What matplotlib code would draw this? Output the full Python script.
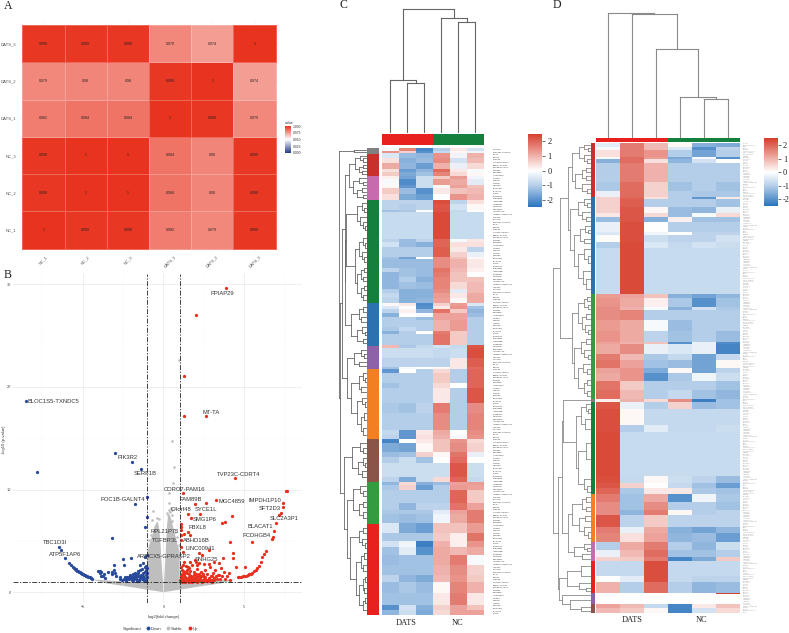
#!/usr/bin/python3
# -*- coding: utf-8 -*-
import numpy as np
import matplotlib
matplotlib.use('Agg')
import matplotlib.pyplot as plt
from matplotlib.colors import LinearSegmentedColormap
from matplotlib.lines import Line2D

plt.rcParams['font.family'] = ['Liberation Sans', 'DejaVu Sans']

W, H = 789, 633

# ---------- panel A ----------
sample_names = ['NC_1', 'NC_2', 'NC_3', 'DATS_1', 'DATS_2', 'DATS_3']
corr_values = [
    [1, 0.999, 0.999, 0.982, 0.979, 0.999],
    [0.999, 1, 1, 0.984, 0.98, 0.999],
    [0.999, 1, 1, 0.984, 0.98, 0.999],
    [0.982, 0.984, 0.984, 1, 0.999, 0.979],
    [0.979, 0.98, 0.98, 0.999, 1, 0.974],
    [0.999, 0.999, 0.999, 0.979, 0.974, 1],
]
corr_legend_ticks = [0.9, 0.925, 0.95, 0.975, 1.0]

# ---------- panel B ----------
down_x = [-8.52, -7.86, -3.02, -1.95, -1.38, -1.75, -1.01, -1.05, -1.15, -3.19, -2.51, -2.02, -1.17, -1.02,
          -6.46, -6.36, -6.11, -5.86, -5.6, -5.49, -5.39, -5.29, -5.19, -5.08, -4.98, -4.88, -4.77, -4.67, -4.57,
          -4.46, -4.4, -4.05, -3.95, -3.95, -3.74, -3.62, -3.44, -3.09, -3.17, -2.98, -2.92, -2.72, -2.67, -2.45,
          -2.41, -2.26, -2.14, -2.0, -1.89, -1.79, -1.69, -1.58, -1.48, -1.44, -1.28, -1.17, -1.07, -1.03, -1.28,
          -1.11, -1.03, -1.48, -1.69, -2.0, -2.26, -2.47, -1.38, -1.23, -1.03, -1.58, -1.79, -1.15, -1.32, -2.6,
          -2.35, -2.15, -1.95, -1.8, -1.65, -1.5, -1.35, -1.2, -1.1, -1.4, -1.9, -2.1, -1.25, -3.9, -3.07,
          -5.75, -5.55, -5.44, -5.34, -5.24, -5.13, -5.03, -4.93, -4.82, -4.72, -4.62, -4.51, -2.2, -2.05, -1.92,
          -1.72, -1.6, -1.45, -1.3, -1.12, -1.06, -1.52, -1.62, -1.86, -2.32, -1.22, -1.08, -3.85, -3.68, -3.22]
down_y = [18.63, 11.75, 13.53, 12.69, 11.97, 8.6, 9.25, 7.3, 6.39, 5.32, 3.28, 3.37, 3.41, 3.6,
          4.41, 4.12, 3.31, 2.85, 2.43, 2.27, 2.17, 2.04, 1.94, 1.85, 1.75, 1.65, 1.59, 1.52, 1.46,
          1.39, 1.33, 2.11, 2.11, 1.85, 1.59, 1.39, 2.01, 2.17, 1.78, 1.85, 1.62, 1.46, 1.33, 2.63,
          1.52, 1.52, 1.46, 1.52, 1.59, 1.46, 1.69, 1.85, 2.17, 2.66, 2.82, 2.43, 2.17, 2.33, 1.85,
          1.69, 1.46, 1.36, 1.36, 1.36, 1.33, 1.33, 1.52, 1.43, 1.85, 2.11, 1.91, 2.01, 2.24, 1.2,
          1.25, 1.25, 1.2, 1.25, 1.2, 1.18, 1.25, 1.2, 1.3, 1.7, 1.75, 1.7, 1.6, 1.6, 2.66,
          2.65, 2.35, 2.22, 2.1, 1.99, 1.9, 1.8, 1.7, 1.62, 1.55, 1.49, 1.42, 1.4, 1.55, 1.35,
          1.35, 1.55, 1.6, 1.5, 1.95, 2.6, 1.05, 1.1, 1.08, 1.1, 1.1, 1.08, 2.0, 1.75, 1.95]

up_x = [3.89, 2.02, 1.3, 1.28, 2.65, 4.4, 1.23, 1.93, 2.65, 3.27, 7.57, 7.67, 7.41, 7.41, 7.26, 7.18, 6.99, 6.85,
        6.75, 6.81, 5.47, 1.54, 1.71, 2.26, 1.11, 1.11, 1.11, 1.3, 1.52, 1.65, 3.81, 4.22, 3.6, 4.09, 4.28, 2.84,
        2.22, 2.39, 1.09, 1.11, 1.09, 1.19, 2.02, 2.53, 2.22, 2.8, 3.15, 3.46, 3.56, 3.66, 4.32, 4.49, 5.06,
        4.59, 4.69, 4.79, 4.9, 5.0, 5.1, 5.21, 5.31, 5.41, 5.51, 5.62, 5.72, 5.82, 5.93, 6.03, 6.13, 6.23, 6.34,
        1.05, 1.1, 1.12, 1.15, 1.2, 1.25, 1.3, 1.32, 1.38, 1.42, 1.45, 1.5, 1.52, 1.58, 1.6, 1.65, 1.7, 1.75, 1.78,
        1.85, 1.88, 1.92, 1.98, 2.02, 2.08, 2.12, 2.18, 2.25, 2.3, 2.35, 2.42, 2.48, 2.55, 2.6, 2.66, 2.72, 2.8,
        2.85, 2.92, 3.0, 3.05, 3.12, 3.2, 3.3, 3.38, 3.5, 3.6, 3.72, 3.82, 3.95, 4.05, 4.15, 1.1, 1.22, 1.35, 1.48,
        1.62, 1.8, 1.95, 2.15, 2.4, 2.7, 1.08, 1.28, 1.42, 1.62, 1.95, 2.1,
        1.06, 1.14, 1.18, 1.24, 1.28, 1.34, 1.4, 1.46, 1.55, 1.6, 1.68, 1.72, 1.82, 1.9, 2.0, 2.05, 2.14, 2.22,
        2.32, 2.45, 2.52, 2.62, 2.75, 2.88, 2.98, 3.1, 3.25, 3.45, 1.16, 1.36, 1.56, 1.76, 2.06, 2.38, 2.68, 3.02]
up_y = [29.6, 27.03, 21.03, 17.2, 17.14, 11.1, 9.64, 8.63, 8.66, 8.99, 9.86, 9.86, 8.73, 8.27, 7.69, 7.53, 6.72, 6.0,
        5.16, 5.35, 4.87, 7.59, 7.2, 7.62, 6.68, 6.33, 6.07, 5.64, 5.9, 5.58, 6.81, 7.43, 6.7, 4.87, 3.8, 4.12,
        3.8, 3.63, 5.09, 5.58, 4.44, 3.96, 2.98, 2.76, 2.82, 2.76, 2.9, 2.82, 2.33, 3.31, 3.31, 2.43, 2.43,
        1.46, 1.49, 1.52, 1.55, 1.59, 1.62, 1.69, 1.75, 1.81, 1.91, 2.04, 2.17, 2.33, 2.56, 2.98, 3.41, 3.73, 4.02,
        1.2, 1.45, 1.8, 2.2, 2.7, 1.3, 1.6, 2.0, 1.15, 1.35, 1.9, 2.45, 1.2, 1.5, 1.75, 2.1, 1.25, 1.45, 2.65,
        1.15, 1.65, 1.95, 1.3, 1.5, 2.3, 1.2, 1.75, 1.4, 1.15, 1.95, 1.55, 1.25, 2.2, 1.45, 1.2, 1.75, 1.35,
        2.45, 1.55, 1.2, 1.85, 1.4, 2.15, 1.3, 1.65, 1.25, 1.55, 1.95, 1.3, 1.6, 1.85, 1.2, 1.1, 1.05, 1.05, 1.08,
        1.05, 1.05, 1.08, 1.05, 1.05, 1.08, 2.5, 2.95, 2.6, 2.9, 3.1, 2.7,
        1.55, 1.35, 2.05, 1.15, 1.75, 1.5, 1.25, 2.15, 1.35, 2.35, 1.6, 1.15, 1.4, 1.25, 1.75, 1.25, 1.55, 1.15,
        1.55, 1.8, 1.1, 1.2, 1.2, 1.15, 1.6, 1.15, 1.6, 1.7, 1.0, 1.0, 1.0, 1.0, 1.0, 1.0, 1.05, 1.0]

stable_x = [0.93, 0.54, 0.68, 0.6, 0.32, 0.36, 0.46, 0.52, 0.24, -0.66, -0.9, -0.75, -0.55, 0.95, 0.85, 0.7, 0.5,
            0.4, 0.33, -0.4, -0.3, 0.55, 0.28, -0.72]
stable_y = [22.6, 14.73, 12.23, 10.6, 9.66, 8.7, 8.2, 8.0, 7.7, 7.9, 5.1, 5.6, 6.4, 4.6, 5.4, 5.9, 7.5,
            7.8, 8.0, 7.2, 7.1, 6.9, 7.5, 7.0]
# outline of the dense grey cloud
cloud_x = [-4.5, -3.5, -2.5, -1.8, -1.0, -1.0, -0.92, -0.8, -0.65, -0.5, -0.35, -0.25, -0.18, -0.12, -0.07, -0.03, 0,
           0.03, 0.07, 0.12, 0.17, 0.22, 0.28, 0.38, 0.5, 0.62, 0.75, 0.88, 1.0, 1.0, 1.8, 2.5, 3.5, 4.5,
           3.5, 2.0, 1.0, 0, -1.0, -2.0, -3.5]
cloud_y = [1.25, 1.15, 1.05, 1.0, 1.0, 3.8, 4.4, 5.0, 5.8, 6.6, 6.9, 6.0, 4.6, 3.0, 1.8, 1.0, 0.6,
           1.0, 2.0, 3.5, 5.0, 6.5, 7.4, 7.6, 7.0, 6.2, 5.4, 4.6, 4.0, 1.0, 1.0, 1.05, 1.15, 1.25,
           0.85, 0.5, 0.25, 0, 0.25, 0.5, 0.85]

gene_names = ['PPIAP29', 'BLOC1S5-TXNDC5', 'MT-TA', 'PIK3R2', 'SERF1B', 'TVP23C-CDRT4', 'CORO7-PAM16',
              'POC1B-GALNT4', 'FAM89B', 'MGC4859', 'IMPDH1P10', 'SFT2D3', 'C4orf48', 'SYCE1L', 'SMG1P6',
              'SLC2A3P1', 'BLACAT1', 'FBXL8', 'RPL21P75', 'PCDHGB4', 'ABHD16B', 'TGFBR3L', 'TBC1D3I',
              'LINC00941', 'ATP5F1AP6', 'ARMCX5-GPRASP2', 'SNHG25']
gene_x = [3.66, -6.79, 2.92, -2.22, -1.13, 4.65, 1.3, -2.53, 1.67, 4.22, 6.3, 6.56, 1.07, 2.64, 2.57,
          7.47, 5.99, 2.12, 0.08, 5.78, 2.02, 0.12, -6.73, 2.27, -6.11, 0.04, 2.67]
gene_y = [29.1, 18.6, 17.5, 13.15, 11.52, 11.49, 10.03, 8.99, 9.05, 8.82, 8.92, 8.14, 8.01, 8.01, 7.1,
          7.14, 6.36, 6.26, 5.87, 5.55, 5.06, 5.06, 4.8, 4.25, 3.63, 3.44, 3.15]

# ---------- panel C ----------
c_band_span = [7, 8, 14, 16, 16, 10, 11, 10, 18, 10, 17, 18, 12, 18, 7, 81, 8, 15, 16, 13, 8, 27, 12, 13, 15, 22, 13,
               15, 15, 8, 10, 12, 10, 10, 20, 12, 10, 34, 9, 30, 25, 8, 12, 28, 17, 45, 30, 50, 15, 13, 10, 27, 15,
               18, 44, 13, 10, 15, 40, 20, 12, 28, 28, 24, 18, 25, 30, 30, 20, 35, 35, 15, 15]
c_band_values = [
    [-0.1, 1.6, -2.2, -1.0, 0.3, -0.6], [1.4, 0.6, -2.0, -0.8, 0.1, -0.2], [-0.5, -1.3, -1.4, 1.4, -0.2, 1.0],
    [0.4, -1.5, -1.3, 1.5, -0.6, 0.9], [1.1, -1.4, -1.8, 1.0, -0.3, 0.5], [0.4, -1.8, -1.4, 1.9, 0.3, -0.1],
    [0.7, -1.6, -1.2, 1.6, 0.5, 0.1], [0.2, -1.7, -0.7, 0.7, 1.3, -0.2], [-0.1, -2.1, -0.7, 1.3, 1.1, -0.4],
    [0.1, -1.9, -0.7, 0.1, 1.2, 0.8], [0.7, -1.3, -2.0, 0.3, 0.8, 0.9], [0.4, -1.6, -1.8, 0.0, 1.4, 1.0],
    [-0.9, -0.9, -0.9, 2.3, -0.9, 0.4], [-0.9, -1.0, -0.9, 2.2, -0.6, 0.1], [-1.2, -1.1, 0.0, 2.2, -0.8, 0.0],
    [-0.75, -0.75, -0.75, 2.35, -0.75, -0.75], [-0.9, -1.3, -0.9, 2.0, -0.1, 0.3], [-0.6, -1.3, -1.5, 2.0, 0.4, 0.4],
    [-1.0, -1.0, -1.0, 2.1, 0.3, -0.9], [-1.0, -1.0, -1.0, 2.1, 0.6, -0.3], [-1.2, -1.7, 0.0, 1.5, 0.8, 0.1],
    [-1.3, -1.3, -1.3, 1.5, 1.0, 0.3], [-0.9, -1.2, -1.3, 1.8, 0.9, 0.2], [-1.4, -1.2, -1.3, 1.7, 0.8, 0.0],
    [-1.4, -1.0, -1.5, 1.6, 0.8, 0.8], [-1.4, -1.2, -1.3, 1.6, 0.5, 0.9], [-1.0, -1.5, -1.5, 1.5, -0.4, 0.9],
    [-0.8, -1.5, -1.5, 1.3, 0.3, 1.1], [-0.9, -1.5, -1.4, 1.2, 0.1, 1.1], [0.1, 0.3, -2.1, 0.6, 1.3, -0.5],
    [-0.5, 0.0, -2.0, 0.3, 1.4, -1.2], [-0.9, 0.2, -1.4, 1.8, 0.7, -1.4], [-1.5, 0.0, -0.1, 1.2, 1.2, -1.3],
    [-1.0, -1.0, -1.3, 1.2, 1.2, -1.0], [-1.0, -1.0, -1.0, 1.0, 1.3, -1.0], [-1.1, -0.8, -1.0, 1.0, 1.3, -1.0],
    [-1.5, -1.0, 0.0, 1.7, 0.7, -1.0], [-1.0, -1.0, -1.0, 1.8, 0.7, -1.0], [0.9, -1.1, -0.8, -0.6, -0.8, 2.2],
    [-0.7, -0.7, -0.7, -0.8, -0.7, 2.3], [-0.9, -0.9, -0.9, -0.9, 0.3, 2.1], [-1.2, -0.1, 0.0, 0.1, 0.3, 1.9],
    [-1.9, 0.0, -1.0, 0.5, -1.0, 2.0], [-1.0, -1.0, -1.0, 0.7, -1.0, 2.0], [-1.2, -1.0, -1.0, 0.5, 0.0, 2.0],
    [-1.0, -1.0, -1.0, 0.3, -1.0, 2.2], [-1.1, -1.2, -0.9, 1.7, -1.0, 1.5], [-1.0, -1.0, -1.0, 1.5, -1.0, 1.6],
    [-0.8, -1.9, 0.3, 1.1, 0.0, 1.5], [-0.9, -1.9, 0.4, 1.0, -0.1, 1.4], [-2.2, 0.0, 0.3, 0.8, 1.4, 0.5],
    [-1.6, -1.7, 0.1, 0.8, 1.5, 0.6], [-1.3, -1.2, 0.6, 0.1, 1.8, -0.3], [-1.0, -0.7, -1.2, 0.0, 1.9, 0.0],
    [-0.7, -0.7, -0.7, -0.7, 2.2, -0.7], [-0.9, -1.6, -0.7, 0.5, 2.0, -0.8], [-1.4, 0.5, -1.5, -1.3, 1.2, 1.3],
    [-1.1, 0.6, -1.8, -1.0, 1.3, 1.2], [-1.0, -1.0, -1.0, -1.0, 2.0, 0.7], [-1.0, -1.4, -0.9, -0.9, 1.8, 1.2],
    [-1.1, -1.1, -1.1, -0.4, 1.2, 1.7], [-1.2, -1.3, -1.2, -0.2, 1.1, 1.7], [-0.5, -1.6, -1.8, 0.8, 0.8, 1.3],
    [-1.1, -1.1, -1.1, 0.7, 0.2, 1.8], [-0.6, -0.2, -2.3, 1.0, 0.2, 1.4], [-1.2, -0.4, -2.0, 1.1, 0.9, 1.1],
    [-1.3, -1.2, -1.2, 1.1, 1.7, -0.1], [-1.2, -1.2, -1.2, 1.0, 1.5, 0.6], [-0.9, -1.4, -1.6, 0.9, 1.4, 0.7],
    [-1.3, -1.1, -1.3, 0.1, 1.6, 1.0], [-1.2, -1.2, -1.2, 0.3, 1.7, 0.3], [-2.0, -0.6, -1.5, 0.6, 1.2, 0.8],
    [-1.4, -0.7, -1.6, 0.5, 1.2, 1.2],
]
c_cluster_span = [16, 66, 73, 310, 128, 69, 211, 127, 126, 274]
c_cluster_color = ['#808080', '#C9302C', '#C76BAE', '#15803D', '#2B73B0', '#8E62A8', '#F28023', '#8A5548', '#339C40',
                   '#E9211E']

# dendrograms are nested (merge height, child, child), a bare number is a leaf position
c_col_tree = (373, (161, 0.5, (151, 1.5, 2.5)), (345, 3.5, (333, 4.5, 5.5)))
c_grey = (40, 4, 12)
c_dkred = (36, (22, 22, (12, 30, 40)), (26, (14, 50, 60), (16, 68, 76)))
c_pink = (42, (24, 90, (14, 100, 110)), (30, (16, 120, 130), (12, 140, 150)))
c_dkgreen = (64, (32, (16, 165, (10, 178, 190)), (22, 205, (14, 220, (8, 232, 245)))),
             (38, (24, (14, 270, (8, 285, 298)), (16, 312, (10, 326, 340))),
              (30, (18, (10, 358, 370), (12, 385, 398)), (20, (10, 412, 425), (12, 440, 455)))))
c_blue = (50, (26, (14, 475, 490), (18, 505, 520)), (30, (16, 535, (8, 550, 560)), (14, 572, 585)))
c_purple = (40, (18, 605, (10, 618, 628)), (24, 640, 652))
c_orange = (48, (24, (14, 675, (8, 688, 700)), (18, 715, 730)),
            (30, (16, 748, (8, 762, 775)), (20, (10, 795, 815), (12, 838, 860))))
c_brown = (46, (22, 885, (12, 900, 915)), (28, (14, 930, (8, 945, 955)), (16, 968, 985)))
c_green = (42, (22, 1012, (12, 1028, 1042)), (24, (12, 1060, 1075), (14, 1092, 1110)))
c_red = (52, (26, (14, 1140, 1155), (16, 1172, (8, 1185, 1198))),
         (34, (20, (10, 1215, 1232), (12, 1250, 1268)),
          (24, (14, (8, 1285, 1300), (10, 1318, 1335)), (14, (8, 1350, 1365), 1385))))
c_row_tree = (84, c_grey, (82, (76, (68, (56, c_dkred, c_pink), (66, c_dkgreen, c_blue)), (62, c_purple, c_orange)),
                           (70, c_brown, (60, c_green, c_red))))

# ---------- panel D ----------
d_band_span = [12, 10, 20, 6, 14, 55, 27, 18, 7, 23, 20, 12, 13, 30, 10, 20, 20, 137, 13, 25, 10, 30, 32, 33, 7, 30,
               18, 25, 15, 22, 28, 28, 7, 21, 49, 20, 133, 22, 15, 18, 22, 25, 15, 37, 18, 27, 23, 20, 12, 46, 17, 35,
               3, 29, 13, 15]
d_band_values = [
    [-0.4, 1.7, 0.9, 0.1, -1.5, -1.6], [-0.1, 1.7, 0.9, -0.5, -2.0, -0.9], [0.4, 1.7, 1.4, -1.0, -1.7, -1.0],
    [-0.1, 1.9, 1.3, -1.6, -0.1, -2.0], [-1.5, 1.9, 0.4, -1.4, -0.6, 0.0], [-1.0, 1.7, 1.0, -1.0, -1.0, -1.0],
    [-1.1, 1.9, 0.6, -1.2, -1.0, -1.2], [-0.3, 1.9, 0.6, -1.0, -1.1, -1.1], [0.6, 2.0, 0.4, -1.0, -1.9, 0.3],
    [0.6, 2.1, -1.0, -1.0, -1.0, -1.2], [0.6, 2.2, 0.1, -1.3, -1.4, -0.3], [0.3, 2.2, 0.5, -1.3, -0.1, 0.5],
    [-1.3, 2.2, -1.5, 0.2, -1.2, -1.2], [-0.3, 2.3, 0.0, -1.0, -1.0, -1.0], [-0.5, 2.3, -0.2, 0.0, -0.9, -0.9],
    [0.05, 2.3, -0.7, -0.9, -0.9, -0.6], [-1.0, 2.35, -0.5, -0.8, -0.6, -0.7],
    [-0.75, 2.35, -0.75, -0.75, -0.75, -0.75], [1.3, 1.2, 0.8, -1.5, -1.7, -1.4], [1.4, 1.1, 0.2, -1.1, -2.0, -1.2],
    [1.5, 1.0, -0.1, -1.5, -0.6, -1.1], [1.5, 1.6, -1.0, -1.0, -1.0, -1.0], [1.3, 1.1, -0.1, -1.3, -1.0, -1.0],
    [1.4, 1.1, -0.9, -1.2, -1.0, -1.3], [1.2, 1.0, 0.8, -2.0, -0.3, -2.1], [1.1, 1.5, -0.3, -0.5, -0.3, -2.2],
    [1.7, 0.9, -1.1, -0.8, -1.7, -0.8], [1.8, 1.2, -1.2, -1.3, -1.7, 0.1], [1.2, 1.4, -1.6, 0.1, -1.7, -0.9],
    [1.1, 1.4, -2.0, -1.1, -0.2, -0.7], [1.8, 0.7, -1.0, -1.0, -1.0, -1.2], [1.9, 0.9, -1.0, -0.8, -1.2, -1.4],
    [0.2, 1.0, 0.5, 1.5, -2.3, -1.2], [2.2, -0.3, -1.0, 0.6, -1.3, -1.2], [2.3, 0.1, -0.8, -0.8, -0.8, -0.8],
    [2.3, -1.0, -0.4, -0.8, -0.8, -0.7], [2.35, -0.75, -0.75, -0.75, -0.75, -0.75], [2.3, -0.8, 0.1, -0.7, -0.9, -1.3],
    [2.2, 0.6, 0.0, -0.8, -1.2, -1.8], [2.0, -1.1, 0.3, 0.3, -1.1, -1.2], [1.7, -1.2, 1.1, -2.0, -0.2, -1.1],
    [1.5, -1.2, 1.5, -1.0, -1.0, -1.2], [1.5, -1.4, 1.7, 0.1, -1.0, -0.9], [2.2, -0.9, 0.7, -0.9, -0.9, -0.9],
    [1.7, -0.3, 1.1, -1.5, -1.7, -1.4], [1.6, 0.4, 1.2, -1.4, -1.3, -1.8], [-1.0, 1.1, 1.7, -1.0, -1.4, -0.7],
    [-0.3, 0.9, 1.9, -1.2, -1.2, -1.0], [0.6, 0.7, 1.7, -2.2, -1.6, 0.7], [-0.8, -0.8, 2.3, -0.8, -0.8, -0.8],
    [0.0, -0.4, 2.3, -0.8, -0.9, -0.9], [1.0, -1.0, 1.9, -1.0, -1.4, -1.3], [0, 0, 0, 0, 0, 2.5], [0, 0, 0, 0, 0, 0],
    [1.2, 0.9, -0.8, -2.2, 0.3, 0.8], [0.9, 0.7, 0.1, -2.2, -0.6, 0.5],
]
d_cluster_span = [162, 292, 316, 7, 278, 144, 55, 98, 32, 28]
d_cluster_color = ['#C9302C', '#2B73B0', '#339C40', '#808080', '#15803D', '#F28023', '#C76BAE', '#E9211E', '#8E62A8',
                   '#8A5548']

d_col_tree = (376, 0.5, (371, 1.5, (266, 2.5, (124, 3.5, (116, 4.5, 5.5)))))
d_dkred = (58, (36, (22, 6, (10, 16, 24)), (20, 38, (12, 50, 60))),
           (48, (28, (14, 75, 88), (16, 100, 112)), (26, 125, (12, 140, 152))))
d_blue = (64, (38, (22, 170, (12, 182, 192)), (26, 208, (14, 222, 235))),
          (52, (32, (18, 250, (10, 262, 272)), (22, 288, 300)), (38, (20, 320, (10, 340, 360)), (24, 385, (14, 410, 440)))))
d_green = (58, (38, (20, (12, 462, 474), (10, 488, 500)), (28, (14, 515, 530), (18, 548, (10, 562, 574)))),
           (50, (30, (14, 590, 605), (20, 622, (10, 636, 648))), (40, (24, 665, (12, 680, 695)), (22, (12, 712, 728), (12, 744, 760)))))
d_dkgreen = (46, (30, (14, 785, (8, 798, 810)), (18, 830, 860)), (40, (16, 900, 950), (22, 1010, (12, 1030, 1048))))
d_orange = (56, (28, (14, 1062, 1078), (16, 1092, 1106)), (36, (18, 1120, 1135), (22, 1152, (10, 1168, 1185))))
d_pink = (50, (22, 1205, (12, 1215, 1225)), (26, 1235, 1248))
d_red = (72, (30, 1270, 1300), (36, 1320, (14, 1335, 1345)))
d_tail = (86, 1358, (62, 1372, (30, 1392, 1405)))
d_row_tree = (113, (92, (70, d_dkred, d_blue), d_green),
              (100, (88, (84, 773, d_dkgreen), (70, d_orange, d_pink)), (96, d_red, d_tail)))

group_names = ['DATS', 'NC']

fig = plt.figure(figsize=(W / 100, H / 100), dpi=100)


# 像素坐标转成 axes
def px_axes(x0, y0, x1, y1):
    return fig.add_axes([x0 / W, 1 - y1 / H, (x1 - x0) / W, (y1 - y0) / H])


def px_text(x, y, s, **kw):
    return fig.text(x / W, 1 - y / H, s, ha='center', va='center', **kw)


def draw_tree(ax, node, color, lw, on_top):
    if not isinstance(node, tuple):
        return node, 0
    h, a, b = node
    pa, ha = draw_tree(ax, a, color, lw, on_top)
    pb, hb = draw_tree(ax, b, color, lw, on_top)
    for xs, ys in (([pa, pa], [ha, h]), ([pb, pb], [hb, h]), ([pa, pb], [h, h])):
        if on_top:
            ax.plot(xs, ys, color=color, lw=lw, solid_capstyle='projecting')
        else:
            ax.plot(ys, xs, color=color, lw=lw, solid_capstyle='projecting')
    return (pa + pb) / 2, h


def clean(ax):
    ax.set_xticks([])
    ax.set_yticks([])
    for s in ax.spines.values():
        s.set_visible(False)
    ax.patch.set_alpha(0)


# 热图 C D 共用
heat_cmap = LinearSegmentedColormap.from_list(
    'heat', [(0, '#2A73BC'), (0.3, '#B5CFE9'), (0.5, '#FFFFFF'), (1, '#D73F2E')])


def cluster_panel(heat_box, span, values, top_box, col_tree, col_box, col_limit, row_tree, row_box, row_limit,
                  anno_box, cluster_span, cluster_color, bar_box, tree_color, label_count, label_size, label_color,
                  label_x):
    ax = px_axes(*heat_box)
    edges = np.r_[0, np.cumsum(span)]
    mesh = ax.pcolormesh(np.arange(7), edges, np.array(values), cmap=heat_cmap, vmin=-2.5, vmax=2.5)
    ax.set_ylim(edges[-1], 0)
    clean(ax)

    # 右侧行名
    lab = fig.add_axes(ax.get_position(), frameon=False)
    lab.set_xlim(0, 1)
    lab.set_ylim(label_count, 0)
    lab.set_xticks([])
    lab.yaxis.tick_right()
    lab.set_yticks(np.arange(label_count) + 0.5,
                   [gene_names[i % len(gene_names)] for i in range(label_count)])
    lab.tick_params(axis='y', length=0, pad=label_x, labelsize=label_size, labelcolor=label_color)

    top = px_axes(*top_box)
    top.bar([0, 1], [1, 1], width=1, align='edge', color=['#E9211E', '#15803D'])
    top.set_xlim(0, 2)
    top.set_ylim(0, 1)
    clean(top)

    col = px_axes(*col_box)
    draw_tree(col, col_tree, tree_color, 0.8, True)
    col.set_xlim(0, 6)
    col.set_ylim(0, col_limit)
    clean(col)

    row = px_axes(*row_box)
    draw_tree(row, row_tree, tree_color, 0.6, False)
    row.set_xlim(row_limit, 0)
    row.set_ylim(sum(cluster_span), 0)
    clean(row)

    anno = px_axes(*anno_box)
    cedges = np.r_[0, np.cumsum(cluster_span)]
    anno.barh(cedges[:-1], [1] * len(cluster_span), height=cluster_span, align='edge', color=cluster_color)
    anno.set_xlim(0, 1)
    anno.set_ylim(cedges[-1], 0)
    clean(anno)

    bar_ax = px_axes(*bar_box)
    cb = fig.colorbar(mesh, cax=bar_ax)
    cb.set_ticks([-2, -1, 0, 1, 2], labels=['-2', '-1', '0', '1', '2'])
    cb.ax.tick_params(length=2, width=0.5, pad=1.5, labelsize=6, color='#333333', labelcolor='#222222')
    for t in cb.ax.get_yticklabels():
        t.set_family('Liberation Serif')
    cb.outline.set_visible(False)


# ---------- A ----------
corr_cmap = LinearSegmentedColormap.from_list('corr', ['#27408B', '#FFFFFF', '#E8341F'])
ax_a = px_axes(19.3, 22, 278.7, 251.7)
mesh_a = ax_a.pcolormesh(np.arange(7), np.arange(7), np.array(corr_values), cmap=corr_cmap, vmin=0.9, vmax=1.0,
                         edgecolors=(1, 1, 1, 0.25), linewidth=0.4, zorder=2)
ax_a.set_xlim(-0.07, 6.07)
ax_a.set_ylim(-0.08, 6.08)
ax_a.set_xticks(np.arange(6) + 0.5, sample_names, rotation=45, ha='center')
ax_a.set_yticks(np.arange(6) + 0.5, sample_names)
ax_a.tick_params(length=0, labelsize=3, labelcolor='#4D4D4D', pad=2)
ax_a.grid(color='#EDEDED', lw=0.4, zorder=0)
for s in ax_a.spines.values():
    s.set_visible(False)
for i, row_vals in enumerate(corr_values):
    for j, v in enumerate(row_vals):
        ax_a.text(j + 0.5, i + 0.5, f'{v:g}', ha='center', va='center', fontsize=2.6, color='#222222', zorder=3)
cax_a = px_axes(285.3, 126, 291, 152.7)
cb_a = fig.colorbar(mesh_a, cax=cax_a)
cb_a.set_ticks(corr_legend_ticks, labels=[f'{t:.3f}' for t in corr_legend_ticks])
cb_a.ax.tick_params(length=0, pad=1.5, labelsize=2.4, labelcolor='#333333')
cb_a.outline.set_visible(False)
px_text(289, 123.2, 'value', fontsize=2.6, color='#333333')

# ---------- B ----------
ax_b = px_axes(12.7, 274, 301.7, 603)
ax_b.set_xlim(-9.34, 8.56)
ax_b.set_ylim(-1.05, 31)
ax_b.set_xticks([-5, 0, 5])
ax_b.set_yticks([0, 10, 20, 30])
ax_b.set_xticks([-7.5, -2.5, 2.5, 7.5], minor=True)
ax_b.set_yticks([5, 15, 25], minor=True)
ax_b.grid(which='major', color='#ECECEC', lw=0.6, zorder=0)
ax_b.grid(which='minor', color='#F6F6F6', lw=0.3, zorder=0)
ax_b.tick_params(which='both', length=0, labelsize=2.8, labelcolor='#4D4D4D', pad=1.5)
for s in ax_b.spines.values():
    s.set_visible(False)
ax_b.fill(cloud_x, cloud_y, color='#BEBEBE', lw=0, zorder=1)
ax_b.scatter(stable_x, stable_y, s=3.5, color='#BEBEBE', lw=0, zorder=2)
ax_b.scatter(down_x, down_y, s=5.5, color='#2A4B9B', lw=0, zorder=3)
ax_b.scatter(up_x, up_y, s=5.5, color='#E8301F', lw=0, zorder=3)
dash = (0, (6, 1.8, 1.6, 1.8))
for v in (-1, 1):
    ax_b.axvline(v, color='#222222', lw=0.6, ls=dash, zorder=4)
ax_b.axhline(0.97, color='#222222', lw=0.6, ls=dash, zorder=4)
for name, x, y in zip(gene_names, gene_x, gene_y):
    ax_b.text(x, y, name, ha='center', va='center', fontsize=4.2, color='#333333', zorder=5)
px_text(164, 616.7, 'log2(fold change)', fontsize=3, color='#333333')
px_text(4, 440, '-log10 (p-value)', fontsize=3, color='#333333', rotation=90)
handles = [Line2D([], [], ls='', marker='', label='Significant'),
           Line2D([], [], ls='', marker='o', ms=1.8, color='#2A4B9B', label='Down'),
           Line2D([], [], ls='', marker='o', ms=1.8, color='#BEBEBE', label='Stable'),
           Line2D([], [], ls='', marker='o', ms=1.8, color='#E8301F', label='Up')]
fig.legend(handles=handles, ncol=4, loc='center', bbox_to_anchor=(158 / W, 1 - 628.7 / H), frameon=False, fontsize=3,
           handletextpad=0.3, columnspacing=1.2, handlelength=0.8, labelcolor='#333333')

# ---------- C ----------
cluster_panel((382, 148.3, 483.5, 615), c_band_span, c_band_values, (382, 134, 484, 145), c_col_tree,
              (382, 5, 483.5, 133.3), 385, c_row_tree, (335, 148.3, 367.3, 615), 97, (367.3, 148.3, 379, 615),
              c_cluster_span, c_cluster_color, (527.7, 134, 542.3, 207.3), '#666666', 180, 1.5, '#333333', 6.5)
px_text(406, 622.7, group_names[0], fontsize=6, family='Liberation Serif', color='#222222')
px_text(457.7, 622.7, group_names[1], fontsize=6, family='Liberation Serif', color='#222222')

# ---------- D ----------
cluster_panel((595.7, 142.7, 740, 613.3), d_band_span, d_band_values, (595.7, 138, 740, 141.7), d_col_tree,
              (595.7, 10, 740, 138), 384, d_row_tree, (552, 142.7, 591, 613.3), 117, (591, 142.7, 595, 613.3),
              d_cluster_span, d_cluster_color, (764.3, 138.4, 778, 206), '#8A8A8A', 300, 1.1, '#999999', 2)
px_text(631.7, 619.7, group_names[0], fontsize=6, family='Liberation Serif', color='#222222')
px_text(702, 619.5, group_names[1], fontsize=6, family='Liberation Serif', color='#222222')

# 面板字母
for letter, x, y in zip('ABCD', [8.5, 8, 343.5, 557], [6, 275, 5.5, 5.5]):
    px_text(x, y, letter, fontsize=8.5, family='Liberation Serif', color='#222222')

fig.savefig('out.png', dpi=100)
